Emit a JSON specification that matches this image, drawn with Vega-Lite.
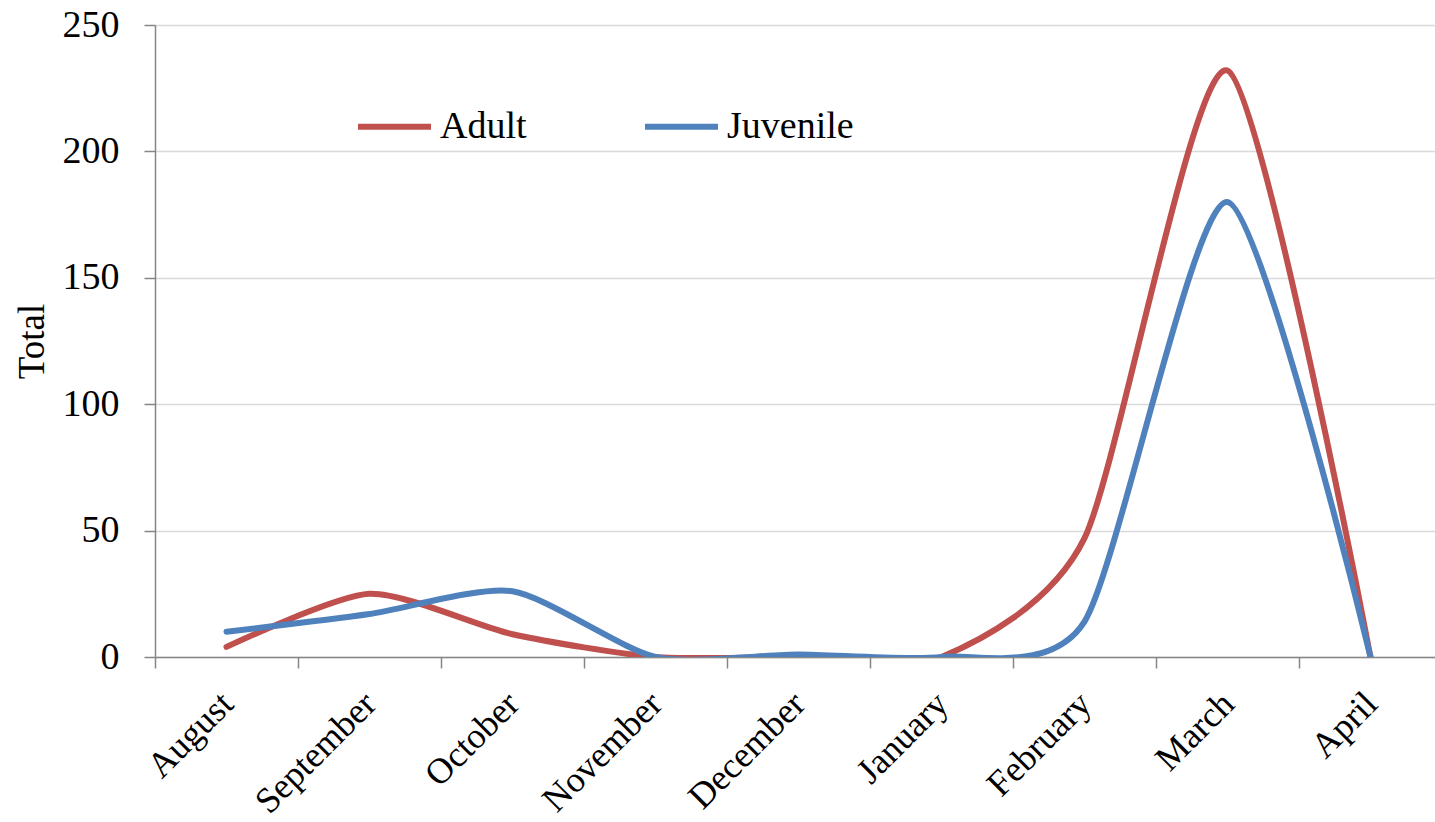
{
  "$schema": "https://vega.github.io/schema/vega-lite/v6.json",
  "width": 1280,
  "height": 632,
  "autosize": {"type": "none"},
  "padding": {"left": 155, "top": 25, "right": 0, "bottom": 165},
  "background": "white",
  "config": {"view": {"stroke": null}, "font": "Liberation Serif"},
  "data": {
    "values": [
      {"month": "August", "group": "Adult", "total": 4},
      {"month": "September", "group": "Adult", "total": 25},
      {"month": "October", "group": "Adult", "total": 9},
      {"month": "November", "group": "Adult", "total": 0},
      {"month": "December", "group": "Adult", "total": 0},
      {"month": "January", "group": "Adult", "total": 0},
      {"month": "February", "group": "Adult", "total": 47},
      {"month": "March", "group": "Adult", "total": 232},
      {"month": "April", "group": "Adult", "total": 0},
      {"month": "August", "group": "Juvenile", "total": 10},
      {"month": "September", "group": "Juvenile", "total": 17},
      {"month": "October", "group": "Juvenile", "total": 26},
      {"month": "November", "group": "Juvenile", "total": 0},
      {"month": "December", "group": "Juvenile", "total": 1},
      {"month": "January", "group": "Juvenile", "total": 0},
      {"month": "February", "group": "Juvenile", "total": 14},
      {"month": "March", "group": "Juvenile", "total": 180},
      {"month": "April", "group": "Juvenile", "total": 0}
    ]
  },
  "mark": {"type": "line", "interpolate": "cardinal", "tension": 0.3, "strokeWidth": 6, "strokeCap": "round", "strokeJoin": "round", "clip": true},
  "encoding": {
    "x": {
      "field": "month",
      "type": "ordinal",
      "sort": ["August", "September", "October", "November", "December", "January", "February", "March", "April"],
      "scale": {"type": "point", "padding": 0.4755, "align": 0.5257},
      "axis": {
        "title": null,
        "labelAngle": -45,
        "labelAlign": "right",
        "labelBaseline": "middle",
        "labelFontSize": 36,
        "labelFont": "Liberation Serif",
        "labelColor": "black",
        "tickOffset": -71.5,
        "labelOffset": 72,
        "tickSize": 11,
        "tickWidth": 1.5,
        "tickColor": "#868686",
        "domainColor": "#868686",
        "domainWidth": 1.5,
        "labelPadding": 30,
        "grid": false
      }
    },
    "y": {
      "field": "total",
      "type": "quantitative",
      "scale": {"domain": [0, 250], "nice": false, "zero": true},
      "axis": {
        "title": "Total",
        "titleFontSize": 37,
        "titleFontWeight": "normal",
        "titleFont": "Liberation Serif",
        "titleColor": "black",
        "titlePadding": 11,
        "values": [0, 50, 100, 150, 200, 250],
        "labelFontSize": 38,
        "labelFont": "Liberation Serif",
        "labelColor": "black",
        "labelPadding": 25,
        "tickSize": 11,
        "tickWidth": 1.5,
        "tickColor": "#868686",
        "domainColor": "#868686",
        "domainWidth": 1.5,
        "gridColor": "#D9D9D9",
        "gridWidth": 1.5
      }
    },
    "color": {
      "field": "group",
      "type": "nominal",
      "scale": {"domain": ["Adult", "Juvenile"], "range": ["#C0504D", "#4F81BD"]},
      "legend": {
        "title": null,
        "orient": "none",
        "legendX": 200,
        "legendY": 62,
        "direction": "horizontal",
        "symbolType": "stroke",
        "symbolSize": 5329,
        "symbolStrokeWidth": 6,
        "labelFontSize": 38,
        "labelFont": "Liberation Serif",
        "labelColor": "black",
        "labelOffset": 6,
        "columnPadding": 106,
        "padding": 0
      }
    }
  }
}
